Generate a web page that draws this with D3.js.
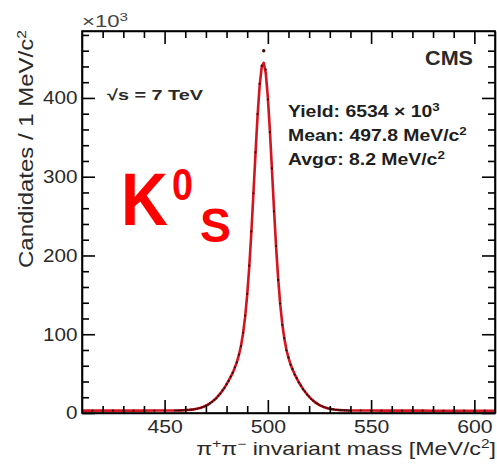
<!DOCTYPE html>
<html>
<head>
<meta charset="utf-8">
<script src="https://cdn.jsdelivr.net/npm/d3@7"></script>
<style>
  html, body { margin: 0; padding: 0; background: #fff; }
  svg { display: block; }
</style>
</head>
<body>
<script>
// pi+pi- invariant mass spectrum around the K0S peak (1 MeV bins, counts in thousands)
const massBins = [
  410, 415, 420, 425, 430, 435, 440, 445, 450, 455,
  456, 457, 458, 459, 460, 461, 462, 463, 464, 465, 466, 467, 468, 469,
  470, 471, 472, 473, 474, 475, 476, 477, 478, 479,
  480, 481, 482, 483, 484, 485, 486, 487, 488, 489,
  490, 491, 492, 493, 494, 495, 496, 497, 498, 499,
  500, 501, 502, 503, 504, 505, 506, 507, 508, 509,
  510, 511, 512, 513, 514, 515, 516, 517, 518, 519,
  520, 521, 522, 523, 524, 525, 526, 527, 528, 529,
  530, 531, 532, 533, 534, 535, 536, 537, 538, 539, 540,
  545, 550, 555, 560, 565, 570, 575, 580, 585, 590, 595, 600, 605, 610
];

// fitted signal + background curve
const fitCounts = [
  3.0, 3.0, 3.0, 3.0, 3.0, 3.0, 3.0, 3.1, 3.1, 3.1,
  3.2, 3.2, 3.3, 3.4, 3.6, 3.8, 4.0, 4.3, 4.6, 5.1, 5.6, 6.3, 7.1, 8.1,
  9.3, 10.7, 12.3, 14.2, 16.4, 18.9, 21.7, 24.9, 28.3, 32.2,
  36.3, 41.0, 45.9, 51.2, 57.6, 64.8, 73.7, 85.4, 100.9, 122.0,
  149.9, 185.5, 228.8, 277.7, 328.6, 376.2, 414.9, 438.9, 444.6, 431.2,
  400.8, 357.9, 308.2, 257.6, 210.6, 170.3, 137.8, 112.9, 94.2, 80.3,
  69.9, 61.8, 55.0, 49.1, 43.9, 39.0, 34.6, 30.6, 26.9, 23.6,
  20.5, 17.9, 15.5, 13.4, 11.7, 10.1, 8.8, 7.7, 6.8, 6.0,
  5.4, 4.9, 4.5, 4.2, 3.9, 3.7, 3.5, 3.4, 3.3, 3.2, 3.2,
  3.1, 3.1, 3.0, 3.0, 3.0, 3.0, 3.0, 2.9, 2.9, 2.9, 2.9, 2.9, 2.8, 2.8
];

// measured candidates per bin
const dataCounts = [
  3.1, 2.9, 3.0, 3.1, 3.0, 2.9, 3.1, 3.0, 3.1, 3.2,
  3.2, 3.3, 3.3, 3.4, 3.5, 3.9, 4.1, 4.2, 4.7, 5.0, 5.7, 6.2, 7.2, 8.0,
  9.4, 10.6, 12.5, 14.0, 16.6, 18.7, 21.9, 24.6, 28.6, 32.0,
  36.6, 40.7, 46.3, 51.0, 58.1, 64.4, 74.3, 85.0, 101.8, 123.5,
  151.2, 187.0, 230.5, 279.0, 331.0, 379.5, 418.0, 441.0, 460.0, 436.0,
  398.0, 356.5, 310.5, 256.0, 212.0, 169.0, 139.0, 112.0, 95.0, 79.6,
  70.6, 61.2, 55.6, 48.6, 44.3, 38.7, 34.9, 30.3, 27.2, 23.4,
  20.8, 17.7, 15.7, 13.2, 11.9, 10.0, 8.9, 7.6, 6.9, 5.9,
  5.5, 4.8, 4.6, 4.1, 4.0, 3.6, 3.6, 3.3, 3.4, 3.1, 3.3,
  3.2, 3.0, 3.1, 2.9, 3.0, 3.1, 2.9, 3.0, 2.8, 2.9, 3.0, 2.8, 2.9, 2.7
];

const xDomain = [410, 610];
const yDomain = [0, 485];
const xMajorTicks = [450, 500, 550, 600];
const xMinorTicks = [420, 430, 440, 460, 470, 480, 490, 510, 520, 530, 540, 560, 570, 580, 590];
const yMajorTicks = [0, 100, 200, 300, 400];
const yMinorTicks = [20, 40, 60, 80, 120, 140, 160, 180, 220, 240, 260, 280, 320, 340, 360, 380, 420, 440, 460, 480];

const infoLines = [
  { parts: [["Yield: 6534 \u00d7 10", false], ["3", true]] },
  { parts: [["Mean: 497.8 MeV/c", false], ["2", true]] },
  { parts: [["Avg\u03c3: 8.2 MeV/c", false], ["2", true]] }
];

const W = 497, H = 471;
const frame = { left: 82, right: 495, top: 31, bottom: 413 };
const FONT = "'Liberation Sans', Arial, Helvetica, sans-serif";

const svg = d3.select("body").append("svg")
  .attr("width", W).attr("height", H)
  .attr("font-family", FONT);

svg.append("rect").attr("width", W).attr("height", H).attr("fill", "#fff");

const x = d3.scaleLinear().domain(xDomain).range([frame.left, frame.right]);
const y = d3.scaleLinear().domain(yDomain).range([frame.bottom, frame.top]);

// stretch a text node horizontally so it spans the given width
function fitWidth(textSel, target, tx, ty, extra) {
  const len = textSel.node().getComputedTextLength();
  const sx = target / len;
  textSel.attr("transform", `translate(${tx},${ty}) ${extra || ""} scale(${sx},1)`);
  return sx;
}

// clip for the curve
svg.append("defs").append("clipPath").attr("id", "plotClip")
  .append("rect")
  .attr("x", frame.left).attr("y", frame.top)
  .attr("width", frame.right - frame.left).attr("height", frame.bottom - frame.top);

const points = massBins.map((m, i) => ({ m, fit: fitCounts[i], data: dataCounts[i] }));

const plotG = svg.append("g").attr("clip-path", "url(#plotClip)");

// fit curve
plotG.append("path")
  .datum(points)
  .attr("fill", "none")
  .attr("stroke", "#d4141e")
  .attr("stroke-width", 2.6)
  .attr("stroke-linejoin", "round")
  .attr("d", d3.line().x(d => x(d.m)).y(d => y(d.fit)));

// data markers
plotG.selectAll("circle.pt")
  .data(points)
  .join("circle")
  .attr("class", "pt")
  .attr("cx", d => x(d.m))
  .attr("cy", d => y(d.data))
  .attr("r", d => d.data > d.fit + 5 ? 1.7 : 1.1)
  .attr("fill", "#3a0808");

// axes: inward ticks on all four sides
function styleAxis(g) {
  g.selectAll("path.domain").attr("stroke", "#000").attr("stroke-width", 1.6);
  g.selectAll(".tick line").attr("stroke", "#000").attr("stroke-width", 1.6);
  g.selectAll(".tick text")
    .attr("font-size", 18)
    .attr("fill", "#2a2a2a")
    .attr("font-family", FONT);
}

const gxMinor = svg.append("g").attr("transform", `translate(0,${frame.bottom})`)
  .call(d3.axisBottom(x).tickValues(xMinorTicks).tickSize(-7).tickSizeOuter(0).tickFormat(""));
gxMinor.select("path.domain").remove();
styleAxis(gxMinor);

const gx = svg.append("g").attr("transform", `translate(0,${frame.bottom})`)
  .call(d3.axisBottom(x).tickValues(xMajorTicks).tickSize(-13).tickSizeOuter(0).tickPadding(7).tickFormat(d3.format("d")));
styleAxis(gx);
gx.selectAll(".tick text").attr("transform", "scale(1.18,1)");

const gxTopMinor = svg.append("g").attr("transform", `translate(0,${frame.top})`)
  .call(d3.axisTop(x).tickValues(xMinorTicks).tickSize(-7).tickSizeOuter(0).tickFormat(""));
gxTopMinor.select("path.domain").remove();
styleAxis(gxTopMinor);
const gxTop = svg.append("g").attr("transform", `translate(0,${frame.top})`)
  .call(d3.axisTop(x).tickValues(xMajorTicks).tickSize(-13).tickSizeOuter(0).tickFormat(""));
styleAxis(gxTop);

const gyMinor = svg.append("g").attr("transform", `translate(${frame.left},0)`)
  .call(d3.axisLeft(y).tickValues(yMinorTicks).tickSize(-7).tickSizeOuter(0).tickFormat(""));
gyMinor.select("path.domain").remove();
styleAxis(gyMinor);
const gy = svg.append("g").attr("transform", `translate(${frame.left},0)`)
  .call(d3.axisLeft(y).tickValues(yMajorTicks).tickSize(-13).tickSizeOuter(0).tickPadding(4).tickFormat(d3.format("d")));
styleAxis(gy);
gy.selectAll(".tick text").attr("transform", "scale(1.15,1)");

const gyRMinor = svg.append("g").attr("transform", `translate(${frame.right},0)`)
  .call(d3.axisRight(y).tickValues(yMinorTicks).tickSize(-7).tickSizeOuter(0).tickFormat(""));
gyRMinor.select("path.domain").remove();
styleAxis(gyRMinor);
const gyR = svg.append("g").attr("transform", `translate(${frame.right},0)`)
  .call(d3.axisRight(y).tickValues(yMajorTicks).tickSize(-13).tickSizeOuter(0).tickFormat(""));
styleAxis(gyR);

// frame
svg.append("rect")
  .attr("x", frame.left).attr("y", frame.top)
  .attr("width", frame.right - frame.left).attr("height", frame.bottom - frame.top)
  .attr("fill", "none").attr("stroke", "#000").attr("stroke-width", 1.6);

// axis exponent
const expo = svg.append("text").attr("font-size", 16).attr("fill", "#444");
expo.append("tspan").text("\u00d710");
expo.append("tspan").attr("font-size", 11).attr("baseline-shift", "super").text("3");
fitWidth(expo, 46, frame.left, 27);

// x-axis title
const xt = svg.append("text").attr("font-size", 18).attr("fill", "#2a2a2a").attr("text-anchor", "end");
xt.append("tspan").text("\u03c0");
xt.append("tspan").attr("font-size", 12).attr("baseline-shift", "super").text("+");
xt.append("tspan").text("\u03c0");
xt.append("tspan").attr("font-size", 12).attr("baseline-shift", "super").text("\u2212");
xt.append("tspan").text(" invariant mass [MeV/c");
xt.append("tspan").attr("font-size", 12).attr("baseline-shift", "super").text("2");
xt.append("tspan").text("]");
fitWidth(xt, 300, 496, 455);

// y-axis title
const yt = svg.append("text").attr("font-size", 20).attr("fill", "#2a2a2a").attr("text-anchor", "start");
yt.append("tspan").text("Candidates / 1 MeV/c");
yt.append("tspan").attr("font-size", 13).attr("baseline-shift", "super").text("2");
fitWidth(yt, 238, 33, 268, "rotate(-90)");

// energy label
const en = svg.append("text").attr("font-size", 15).attr("font-weight", "bold").attr("fill", "#2a2a2a")
  .text("\u221as = 7 TeV");
fitWidth(en, 96, 107, 100);

// experiment label
const cms = svg.append("text").attr("font-size", 20).attr("font-weight", "bold").attr("fill", "#2a2a2a")
  .attr("text-anchor", "end").text("CMS");
fitWidth(cms, 48, 473, 65);

// fit summary
const infoBaselines = [117, 141, 165];
const infoTexts = infoLines.map(line => {
  const t = svg.append("text").attr("font-size", 16).attr("font-weight", "bold").attr("fill", "#1e1e1e");
  line.parts.forEach(([str, sup]) => {
    const ts = t.append("tspan").text(str);
    if (sup) ts.attr("font-size", 11).attr("baseline-shift", "super");
  });
  return t;
});
const infoScale = fitWidth(infoTexts[1], 179, 288, infoBaselines[1]);
infoTexts.forEach((t, i) => {
  t.attr("transform", `translate(288,${infoBaselines[i]}) scale(${infoScale},1)`);
});

// particle label
const k = svg.append("g").attr("fill", "#ff0000").attr("font-weight", "bold").attr("font-family", FONT);
const kMain = k.append("text").attr("font-size", 74).text("K");
fitWidth(kMain, 47, 121, 225);
const kSup = k.append("text").attr("font-size", 44).text("0");
fitWidth(kSup, 21, 172, 200);
const kSub = k.append("text").attr("font-size", 48).text("S");
fitWidth(kSub, 31, 200, 242);
</script>
</body>
</html>
